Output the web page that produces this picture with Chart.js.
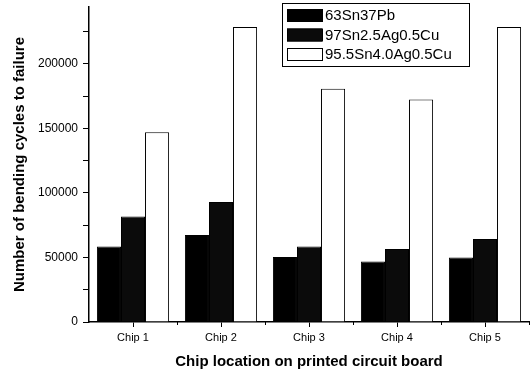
<!DOCTYPE html>
<html>
<head>
<meta charset="utf-8">
<script src="https://cdn.jsdelivr.net/npm/chart.js@4.4.0/dist/chart.umd.min.js"></script>
<style>
  html, body { margin: 0; padding: 0; background: #fff; }
  #wrap { width: 530px; height: 372px; }
</style>
</head>
<body>
<div id="wrap"><canvas id="c" width="530" height="372"></canvas></div>
<script>
// data
const chips = ['Chip 1', 'Chip 2', 'Chip 3', 'Chip 4', 'Chip 5'];
const snPb = [58500, 67400, 50300, 46900, 50000];
const snAg25 = [81800, 92900, 58500, 56500, 64300];
const snAg40 = [147000, 228600, 180600, 172400, 228600];
const yTicks = [0, 25000, 50000, 75000, 100000, 125000, 150000, 175000, 200000, 225000];

const FONT = "'Liberation Sans', Arial, sans-serif";

// legend drawn inside the plot, top right, like the original
const boxLegend = {
    id: 'boxLegend',
    afterDraw(chart) {
        const ctx = chart.ctx;
        const x = 282, y = 3, w = 187, h = 63;
        ctx.save();
        ctx.fillStyle = '#fff';
        ctx.fillRect(x, y, w, h);
        ctx.strokeStyle = '#000';
        ctx.lineWidth = 1;
        ctx.strokeRect(x + 0.5, y + 0.5, w, h);
        ctx.font = '15px ' + FONT;
        ctx.textBaseline = 'middle';
        chart.data.datasets.forEach((ds, i) => {
            const cy = y + 12 + i * 19.5;
            ctx.fillStyle = ds.backgroundColor;
            ctx.fillRect(x + 5, cy - 6, 35, 13);
            ctx.strokeStyle = '#000';
            ctx.strokeRect(x + 5.5, cy - 5.5, 35, 12);
            ctx.fillStyle = '#000';
            ctx.fillText(ds.label, x + 43, cy + 1);
        });
        ctx.restore();
    }
};

// small ticks between the chip groups on the x axis
const minorTicks = {
    id: 'minorTicks',
    afterDraw(chart) {
        const xs = chart.scales.x;
        const ctx = chart.ctx;
        const step = xs.getPixelForTick(1) - xs.getPixelForTick(0);
        ctx.save();
        ctx.strokeStyle = '#000';
        ctx.lineWidth = 1;
        for (let i = 0; i < chips.length; i++) {
            const px = Math.round(xs.getPixelForTick(i) + step / 2) + 0.5;
            ctx.beginPath();
            ctx.moveTo(px, xs.top);
            ctx.lineTo(px, xs.top + 3);
            ctx.stroke();
        }
        ctx.restore();
    }
};

new Chart(document.getElementById('c'), {
    type: 'bar',
    data: {
        labels: chips,
        datasets: [
            { label: '63Sn37Pb', data: snPb, backgroundColor: '#000', borderColor: '#000', borderWidth: 1 },
            { label: '97Sn2.5Ag0.5Cu', data: snAg25, backgroundColor: '#0b0b0b', borderColor: '#000', borderWidth: 1 },
            { label: '95.5Sn4.0Ag0.5Cu', data: snAg40, backgroundColor: '#fff', borderColor: '#000', borderWidth: 1 }
        ]
    },
    options: {
        responsive: false,
        animation: false,
        layout: { padding: { left: 0, top: 7, right: 1, bottom: 0 } },
        datasets: { bar: { categoryPercentage: 0.82, barPercentage: 1.0 } },
        plugins: { legend: { display: false }, tooltip: { enabled: false } },
        scales: {
            x: {
                offset: true,
                grid: { offset: false, drawOnChartArea: false, tickLength: 5, color: '#000', lineWidth: 1 },
                border: { display: true, color: '#000', width: 1.5 },
                ticks: { color: '#000', font: { family: FONT, size: 11 }, padding: 4, maxRotation: 0 },
                title: { display: true, text: 'Chip location on printed circuit board', color: '#000',
                         font: { family: FONT, size: 15, weight: 'bold' }, padding: { top: 0, bottom: 1 } },
                afterFit: s => { s.height = 50; s.paddingLeft = 0; s.paddingRight = 0; }
            },
            y: {
                min: 0,
                max: 244000,
                afterBuildTicks: s => { s.ticks = yTicks.map(v => ({ value: v })); },
                grid: { drawOnChartArea: false, tickLength: 6, color: '#000', lineWidth: 1 },
                border: { display: true, color: '#000', width: 1.5 },
                ticks: {
                    color: '#000', font: { family: FONT, size: 12 }, padding: 5,
                    callback: v => (v % 50000 === 0 ? String(v) : '')
                },
                title: { display: true, text: 'Number of bending cycles to failure', color: '#000',
                         font: { family: FONT, size: 15, weight: 'bold' }, padding: { top: 11, bottom: 0 } },
                afterFit: s => { s.width = 89; s.paddingTop = 0; s.paddingBottom = 0; }
            }
        }
    },
    plugins: [boxLegend, minorTicks]
});
</script>
</body>
</html>
